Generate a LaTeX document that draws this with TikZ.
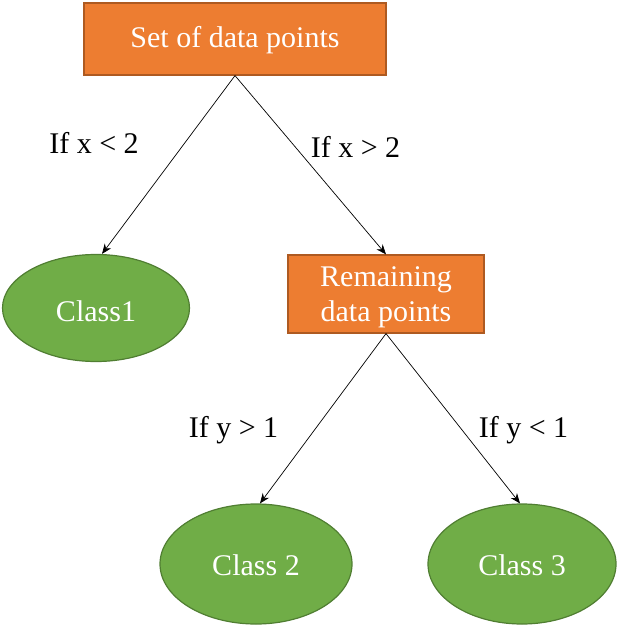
\documentclass[tikz,border=0pt]{standalone}
\usepackage{fontspec}
\setmainfont{Liberation Serif}
\usetikzlibrary{shapes.geometric,arrows.meta}
\definecolor{boxfill}{HTML}{ED7D31}
\definecolor{boxline}{HTML}{AE5A21}
\definecolor{ovalfill}{HTML}{70AD47}
\definecolor{ovalline}{HTML}{507E32}
\tikzset{
  txt/.style={font=\fontsize{30}{35}\selectfont},
  box/.style={txt, draw=boxline, fill=boxfill, text=white, line width=1.2pt, inner sep=0pt, align=center},
  boxtxt/.style={txt, text=white, inner sep=0pt, align=center},
  oval/.style={txt, ellipse, draw=ovalline, fill=ovalfill, text=white, line width=1.2pt, inner sep=0pt},
  lbl/.style={txt, text=black, inner sep=0pt, anchor=base},
  conn/.style={draw=black, line width=0.7pt, -{Stealth[length=10pt,width=8pt]}}
}
\begin{document}
\begin{tikzpicture}[x=1pt,y=-1pt]
\useasboundingbox (0,0) rectangle (617,626);
\node[box, minimum width=302pt, minimum height=72pt, text height=21pt, text depth=3pt] (top) at (235,39) {Set of data points};
\node[oval, minimum width=187pt, minimum height=107pt, text height=26pt, text depth=0pt] (c1) at (96,308) {Class1};
\node[box, minimum width=196pt, minimum height=78pt] (rem) at (386,294) {};
\node[boxtxt] (remtxt) at (386,297.5) {Remaining\\data points};
\node[oval, minimum width=192pt, minimum height=120pt, text height=22pt, text depth=0pt] (c2) at (256,564) {Class 2};
\node[oval, minimum width=188pt, minimum height=120pt, text height=22pt, text depth=0pt] (c3) at (522,564) {Class 3};
\node[lbl] (l1) at (94,153) {If x < 2};
\node[lbl] (l2) at (355.5,157) {If x > 2};
\node[lbl] (l3) at (233.5,437) {If y > 1};
\node[lbl] (l4) at (523.5,437) {If y < 1};
\draw[conn] (top.south) -- ([xshift=6pt]c1.north);
\draw[conn] (top.south) -- (rem.north);
\draw[conn] (rem.south) -- ([xshift=4pt]c2.north);
\draw[conn] (rem.south) -- ([xshift=-2pt]c3.north);
\end{tikzpicture}
\end{document}
